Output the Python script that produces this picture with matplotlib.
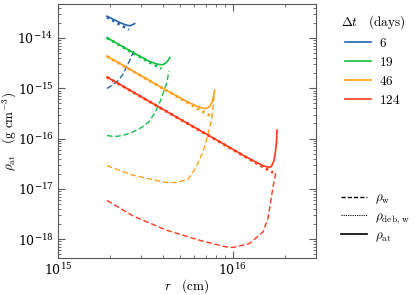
import matplotlib
matplotlib.use("Agg")
import matplotlib.pyplot as plt
from matplotlib.lines import Line2D
from matplotlib.ticker import NullFormatter, LogLocator

plt.rcParams['mathtext.fontset'] = 'cm'
plt.rcParams['font.family'] = ['DejaVu Serif']

# 6 days
r_w_6 = [1.91e15, 2.05e15, 2.2e15, 2.35e15, 2.47e15, 2.58e15, 2.66e15, 2.72e15]
rho_w_6 = [9.9e-16, 1.15e-15, 1.4e-15, 1.85e-15, 2.65e-15, 3.6e-15, 4.6e-15, 5.5e-15]
r_d_6 = [1.91e15, 2.1e15, 2.3e15, 2.55e15]
rho_d_6 = [2.6e-14, 2.15e-14, 1.79e-14, 1.46e-14]
r_at_6 = [1.91e15, 2.1e15, 2.3e15, 2.47e15, 2.58e15, 2.69e15, 2.75e15]
rho_at_6 = [2.7e-14, 2.3e-14, 1.97e-14, 1.8e-14, 1.74e-14, 1.85e-14, 1.93e-14]

# 19 days
r_w_19 = [1.91e15, 2.05e15, 2.2e15, 2.45e15, 2.7e15, 3.0e15, 3.3e15, 3.6e15, 3.85e15, 4.05e15, 4.2e15, 4.32e15]
rho_w_19 = [1.15e-16, 1.11e-16, 1.11e-16, 1.2e-16, 1.36e-16, 1.65e-16, 2.1e-16, 3.3e-16, 5.5e-16, 9e-16, 1.3e-15, 2.2e-15]
r_d_19 = [1.91e15, 2.3e15, 2.8e15, 3.3e15, 3.91e15]
rho_d_19 = [1.0e-14, 6.9e-15, 4.65e-15, 3.35e-15, 2.45e-15]
r_at_19 = [1.91e15, 2.3e15, 2.8e15, 3.3e15, 3.6e15, 3.85e15, 4.0e15, 4.15e15, 4.28e15, 4.37e15]
rho_at_19 = [1.01e-14, 7.0e-15, 4.75e-15, 3.5e-15, 3.1e-15, 2.95e-15, 2.95e-15, 3.2e-15, 3.6e-15, 4.1e-15]

# 46 days
r_w_46 = [1.91e15, 2.69e15, 3.36e15, 4.18e15, 4.77e15, 5.55e15, 6.2e15, 6.92e15, 7.39e15, 7.56e15, 7.72e15, 7.83e15]
rho_w_46 = [2.9e-17, 1.87e-17, 1.57e-17, 1.34e-17, 1.34e-17, 1.54e-17, 2.74e-17, 6.8e-17, 1.71e-16, 2.3e-16, 4.0e-16, 8.3e-16]
r_d_46 = [1.91e15, 2.5e15, 3.3e15, 4.3e15, 5.5e15, 6.5e15, 7.2e15, 7.72e15]
rho_d_46 = [4.3e-15, 2.51e-15, 1.44e-15, 8.5e-16, 5.2e-16, 3.71e-16, 3.03e-16, 2.63e-16]
r_at_46 = [1.91e15, 2.5e15, 3.3e15, 4.3e15, 5.5e15, 6.2e15, 6.7e15, 7.07e15, 7.4e15, 7.65e15, 7.89e15]
rho_at_46 = [4.35e-15, 2.55e-15, 1.46e-15, 8.6e-16, 5.4e-16, 4.45e-16, 4.05e-16, 3.95e-16, 4.4e-16, 5.5e-16, 9.1e-16]

# 124 days
r_w_124 = [1.91e15, 2.69e15, 4.18e15, 6.47e15, 9.2e15, 1.005e16, 1.25e16, 1.49e16, 1.59e16, 1.66e16, 1.70e16, 1.74e16, 1.755e16, 1.79e16]
rho_w_124 = [5.9e-18, 2.9e-18, 1.51e-18, 9.5e-19, 7.0e-19, 6.85e-19, 8.2e-19, 1.4e-18, 2.58e-18, 6.45e-18, 1.1e-17, 1.6e-17, 1.95e-17, 2.1e-17]
r_d_124 = [1.91e15, 2.6e15, 3.6e15, 5.0e15, 7.0e15, 9.5e15, 1.25e16, 1.5e16, 1.7e16]
rho_d_124 = [1.66e-15, 8.96e-16, 4.67e-16, 2.42e-16, 1.24e-16, 6.7e-17, 3.88e-17, 2.69e-17, 2.1e-17]
r_at_124 = [1.91e15, 2.6e15, 3.6e15, 5.0e15, 7.0e15, 9.5e15, 1.25e16, 1.5e16, 1.6e16, 1.66e16, 1.72e16, 1.755e16, 1.78e16, 1.79e16]
rho_at_124 = [1.67e-15, 9.0e-16, 4.7e-16, 2.43e-16, 1.25e-16, 6.8e-17, 3.95e-17, 2.85e-17, 2.7e-17, 2.74e-17, 3.6e-17, 5.5e-17, 8.5e-17, 1.47e-16]

labels = ['6', '19', '46', '124']
colors = ['#2563a8', '#10c040', '#ffa01c', '#ff3a18']
series = [
    (r_w_6, rho_w_6, r_d_6, rho_d_6, r_at_6, rho_at_6),
    (r_w_19, rho_w_19, r_d_19, rho_d_19, r_at_19, rho_at_19),
    (r_w_46, rho_w_46, r_d_46, rho_d_46, r_at_46, rho_at_46),
    (r_w_124, rho_w_124, r_d_124, rho_d_124, r_at_124, rho_at_124),
]

fig = plt.figure(figsize=(4.16, 2.95), dpi=100)
ax = fig.add_axes([0.139, 0.125, 0.621, 0.861])

handles = []
for (rw, pw, rd, pd, ra, pa), c, lab in zip(series, colors, labels):
    ax.plot(rw, pw, color=c, lw=1.0, ls=(0, (4, 2)))
    ax.plot(rd, pd, color=c, lw=2.0, ls=(0, (0.9, 1.3)))
    ax.plot(ra, pa, color=c, lw=1.2)
    handles.append(Line2D([], [], color=c, lw=1.2, label=f'${lab}$'))

ax.set_xscale('log')
ax.set_yscale('log')
ax.set_xlim(1e15, 3e16)
ax.set_ylim(4.2e-19, 4.7e-14)
ax.set_xticks([1e15, 1e16])
ax.set_yticks([1e-18, 1e-17, 1e-16, 1e-15, 1e-14])
ax.xaxis.set_minor_locator(LogLocator(base=10, subs=range(2, 10)))
ax.yaxis.set_minor_locator(LogLocator(base=10, subs=range(2, 10)))
ax.xaxis.set_minor_formatter(NullFormatter())
ax.yaxis.set_minor_formatter(NullFormatter())
ax.tick_params(which='both', direction='in', top=True, right=True, colors='0.35',
               labelcolor='black', labelsize=9)
ax.tick_params(which='major', length=5, pad=3)
ax.tick_params(which='minor', length=2.5)
for s in ax.spines.values():
    s.set_color('0.35')

ax.set_xlabel(r'$r\quad(\mathrm{cm})$', fontsize=9.5)
ax.set_ylabel(r'$\rho_{\rm at}\quad(\mathrm{g\ cm^{-3}})$', fontsize=9.5)
ax.xaxis.set_label_coords(0.5, -0.075)
ax.yaxis.set_label_coords(-0.15, 0.5)

fig.legend(handles=handles, title=r'$\Delta t\quad(\mathrm{days})$',
           loc='upper left', bbox_to_anchor=(0.79, 0.995), frameon=False,
           fontsize=9.5, title_fontsize=9.5, handlelength=2.0, handletextpad=0.6,
           labelspacing=0.45)

style_handles = [
    Line2D([], [], color='black', lw=1.0, ls=(0, (3, 1.5)), label=r'$\rho_{\rm w}$'),
    Line2D([], [], color='black', lw=0.8, ls=(0, (1, 1)), label=r'$\rho_{\rm deb,\,w}$'),
    Line2D([], [], color='black', lw=1.2, label=r'$\rho_{\rm at}$'),
]
fig.legend(handles=style_handles, loc='upper left', bbox_to_anchor=(0.79, 0.39),
           frameon=False, fontsize=9.5, handlelength=2.0, handletextpad=0.6,
           labelspacing=0.25)

fig.savefig('out.png', dpi=100)
